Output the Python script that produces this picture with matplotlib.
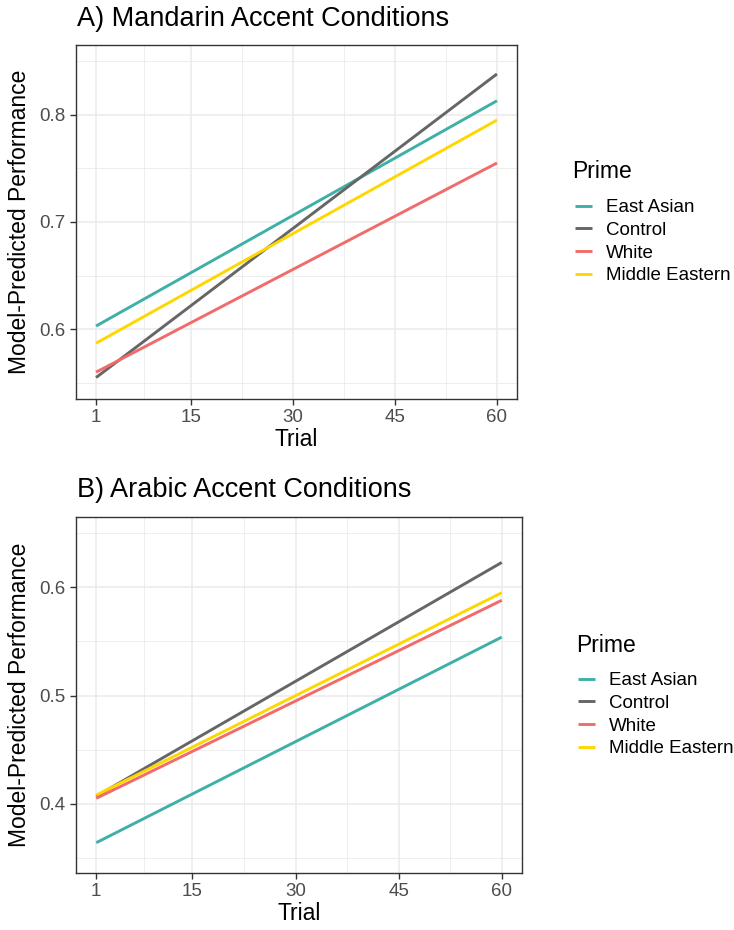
import matplotlib.pyplot as plt
from matplotlib.ticker import FixedLocator

plt.rcParams['font.family'] = ['Liberation Sans', 'DejaVu Sans']

trials = [1, 60]
primes = ['East Asian', 'Control', 'White', 'Middle Eastern']
prime_colors = ['#3FB0A7', '#666666', '#F26B6B', '#FFD700']

# predicted performance at first and last trial
mandarin_east_asian = [0.603, 0.813]
mandarin_control = [0.555, 0.838]
mandarin_white = [0.560, 0.755]
mandarin_middle_eastern = [0.587, 0.795]

arabic_east_asian = [0.364, 0.554]
arabic_control = [0.407, 0.623]
arabic_white = [0.405, 0.588]
arabic_middle_eastern = [0.408, 0.595]

x_ticks = [1, 15, 30, 45, 60]

W, H = 734, 930
fig = plt.figure(figsize=(W / 100, H / 100), dpi=100)


def px_axes(left, top, right, bottom):
    return fig.add_axes([left / W, 1 - bottom / H, (right - left) / W, (bottom - top) / H])


def style_panel(ax, ylim, yticks, yminor):
    ax.set_xlim(-1.95, 62.95)
    ax.set_ylim(*ylim)
    ax.set_xticks(x_ticks)
    ax.xaxis.set_minor_locator(FixedLocator([8, 22.5, 37.5, 52.5]))
    ax.set_yticks(yticks)
    ax.set_yticklabels([f'{t:.1f}' for t in yticks])
    ax.yaxis.set_minor_locator(FixedLocator(yminor))
    ax.grid(which='major', color='#EBEBEB', linewidth=1.1)
    ax.grid(which='minor', color='#EBEBEB', linewidth=0.6)
    ax.set_axisbelow(True)
    for s in ax.spines.values():
        s.set_color('#333333')
        s.set_linewidth(1.0)
    ax.tick_params(which='major', length=4.5, width=1, color='#333333',
                   labelsize=13.5, labelcolor='#4D4D4D', pad=3)
    ax.tick_params(which='minor', length=0)
    ax.set_xlabel('Trial', fontsize=16.5, color='black', labelpad=1)
    ax.set_ylabel('Model-Predicted Performance', fontsize=16.5, color='black', labelpad=6)


def draw_lines(ax, series):
    handles = []
    for name, vals, col in zip(primes, series, prime_colors):
        h, = ax.plot(trials, vals, color=col, linewidth=2.1, label=name,
                     solid_capstyle='butt')
        handles.append(h)
    return handles


# A) Mandarin
ax1 = px_axes(76, 45, 517, 399)
h1 = draw_lines(ax1, [mandarin_east_asian, mandarin_control,
                      mandarin_white, mandarin_middle_eastern])
style_panel(ax1, (0.535, 0.865), [0.6, 0.7, 0.8], [0.55, 0.65, 0.75, 0.85])
fig.text(77 / W, 1 - 18.5 / H, 'A) Mandarin Accent Conditions', fontsize=19.5,
         ha='left', va='center')

# B) Arabic
ax2 = px_axes(76, 517, 522, 873)
h2 = draw_lines(ax2, [arabic_east_asian, arabic_control,
                      arabic_white, arabic_middle_eastern])
style_panel(ax2, (0.336, 0.665), [0.4, 0.5, 0.6], [0.35, 0.45, 0.55, 0.65])
fig.text(77 / W, 1 - 490 / H, 'B) Arabic Accent Conditions', fontsize=19.5,
         ha='left', va='center')

# legends: title drawn as text, entries via fig.legend
for handles, (tx, ty), (lx, ly) in [(h1, (572, 172), (575, 199)),
                                    (h2, (576, 645), (578, 672))]:
    fig.text(tx / W, 1 - ty / H, 'Prime', fontsize=16.5, ha='left', va='center')
    fig.legend(handles=handles, labels=primes, loc='upper left',
               bbox_to_anchor=(lx / W, 1 - ly / H), frameon=False,
               fontsize=13.5, handlelength=0.9, handletextpad=0.75,
               labelspacing=0.3, borderpad=0, borderaxespad=0)

fig.savefig('out.png', dpi=100)
